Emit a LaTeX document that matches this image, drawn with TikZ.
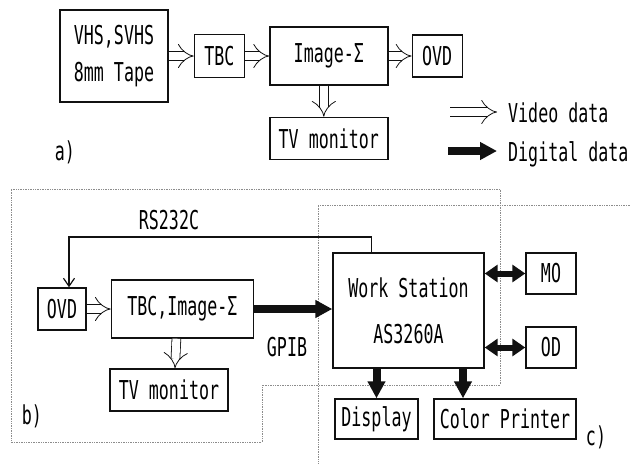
\documentclass[tikz,border=0pt]{standalone}
\usepackage{fontspec}
\newfontfamily\dmfont[FakeStretch=0.64]{DejaVu Sans Mono}
\usepackage{xcolor}
\definecolor{cLine}{HTML}{111111}
\definecolor{cDot}{HTML}{8C8C8C}
\usepackage{tikz}
\usetikzlibrary{positioning,arrows.meta,calc}
\tikzset{
  node-box/.style={draw=cLine,line width=1.4pt,inner sep=0pt,align=center,
    font=\dmfont\fontsize{26}{28}\selectfont},
  node-txt/.style={inner sep=0pt,font=\dmfont\fontsize{26}{28}\selectfont},
  arrow-video/.style={draw=cLine,line width=0.8pt,double=white,
    double distance=8pt,-{Implies}},
  arrow-digital/.style={draw=cLine,line width=8pt,
    -{Triangle[length=17pt,width=17pt]}},
  arrow-both/.style={draw=cLine,line width=6pt,
    {Triangle[length=13pt,width=17pt]}-{Triangle[length=13pt,width=17pt]}},
  arrow-rs/.style={draw=cLine,line width=1.2pt,
    -{Straight Barb[length=8pt,width=11pt]}},
  region/.style={draw=cDot,densely dotted,line width=0.7pt},
}

\begin{document}
\begin{tikzpicture}[x=1pt,y=-1pt]
  \useasboundingbox (0,0) rectangle (630,464);
  % a) video path
  \node[node-box,minimum width=108pt,minimum height=92pt] (vhs) at (114,56)
    {VHS,SVHS\\[9pt]8mm Tape};
  \node[node-box,minimum width=50pt,minimum height=43pt,right=25pt of vhs] (tbc) {TBC};
  \node[node-box,minimum width=118pt,minimum height=58pt,right=24pt of tbc] (img) {Image-Σ};
  \node[node-box,minimum width=50pt,minimum height=42pt,right=23pt of img] (ovd) {OVD};
  \node[node-box,minimum width=118pt,minimum height=42pt,below=31pt of img] (tv) {TV monitor};
  \node[node-txt] (lab-a) at (65,152) {a)};
  \draw[arrow-video] (vhs.east) -- (tbc.west);
  \draw[arrow-video] (tbc.east) -- (img.west);
  \draw[arrow-video] (img.east) -- (ovd.west);
  \draw[arrow-video] ([xshift=-5pt]img.south) -- ([xshift=-5pt]tv.north);
  % legend
  \coordinate (vid-a) at (450,112);
  \coordinate (vid-b) at (497,112);
  \coordinate (dig-a) at (448,151);
  \coordinate (dig-b) at (497,151);
  \node[node-txt,anchor=base west] (vid-txt) at (508,122) {Video data};
  \node[node-txt,anchor=base west] (dig-txt) at (508,161) {Digital data};
  \draw[arrow-video] (vid-a) -- (vid-b);
  \draw[arrow-digital] (dig-a) -- (dig-b);
  % b) and c) regions
  \draw[region] (11,189) -- (500,189) -- (500,385) -- (262,385) -- (262,442)
    -- (11,442) -- cycle;
  \draw[region] (630,205) -- (318,205) -- (318,464);
  % b) play-back side
  \node[node-box,minimum width=48pt,minimum height=42pt] (ovd2) at (62,309) {OVD};
  \node[node-box,minimum width=142pt,minimum height=58pt,right=24pt of ovd2] (tbcimg) {TBC,Image-Σ};
  \node[node-box,minimum width=118pt,minimum height=42pt] (tv2) at (169,390) {TV monitor};
  \node[node-txt] (lab-b) at (32,416) {b)};
  \node[node-txt] (lab-rs) at (169,220) {RS232C};
  \node[node-txt] (lab-gpib) at (287,347) {GPIB};
  % c) work station side
  \node[node-box,minimum width=151pt,minimum height=115pt] (ws) at (408.5,310.5)
    {Work Station\\[18pt]AS3260A};
  \node[node-box,minimum width=50pt,minimum height=41pt] (mo) at (551,273.5) {MO};
  \node[node-box,minimum width=50pt,minimum height=41pt] (od) at (551,347.5) {OD};
  \node[node-box,minimum width=83pt,minimum height=40pt] (disp) at (376.5,419) {Display};
  \node[node-box,minimum width=142pt,minimum height=40pt] (cprn) at (505,419) {Color Printer};
  \node[node-txt] (lab-c) at (596,437) {c)};
  \coordinate (rs-y) at (200,237);
  \draw[arrow-rs] ([xshift=-37pt]ws.north) |- (rs-y) -| ([xshift=7pt]ovd2.north);
  \draw[arrow-video] (ovd2.east) -- (ovd2.east -| tbcimg.west);
  \draw[arrow-video] ([xshift=-6pt]tbcimg.south) -- ([xshift=6pt]tv2.north);
  \draw[arrow-digital] (tbcimg.east) -- (tbcimg.east -| ws.west);
  \draw[arrow-both] (mo.west -| ws.east) -- (mo.west);
  \draw[arrow-both] (od.west -| ws.east) -- (od.west);
  \draw[arrow-digital] (disp.north |- ws.south) -- (disp.north);
  \draw[arrow-digital] ([xshift=-42pt]cprn.north |- ws.south) -- ([xshift=-42pt]cprn.north);
\end{tikzpicture}
\end{document}
